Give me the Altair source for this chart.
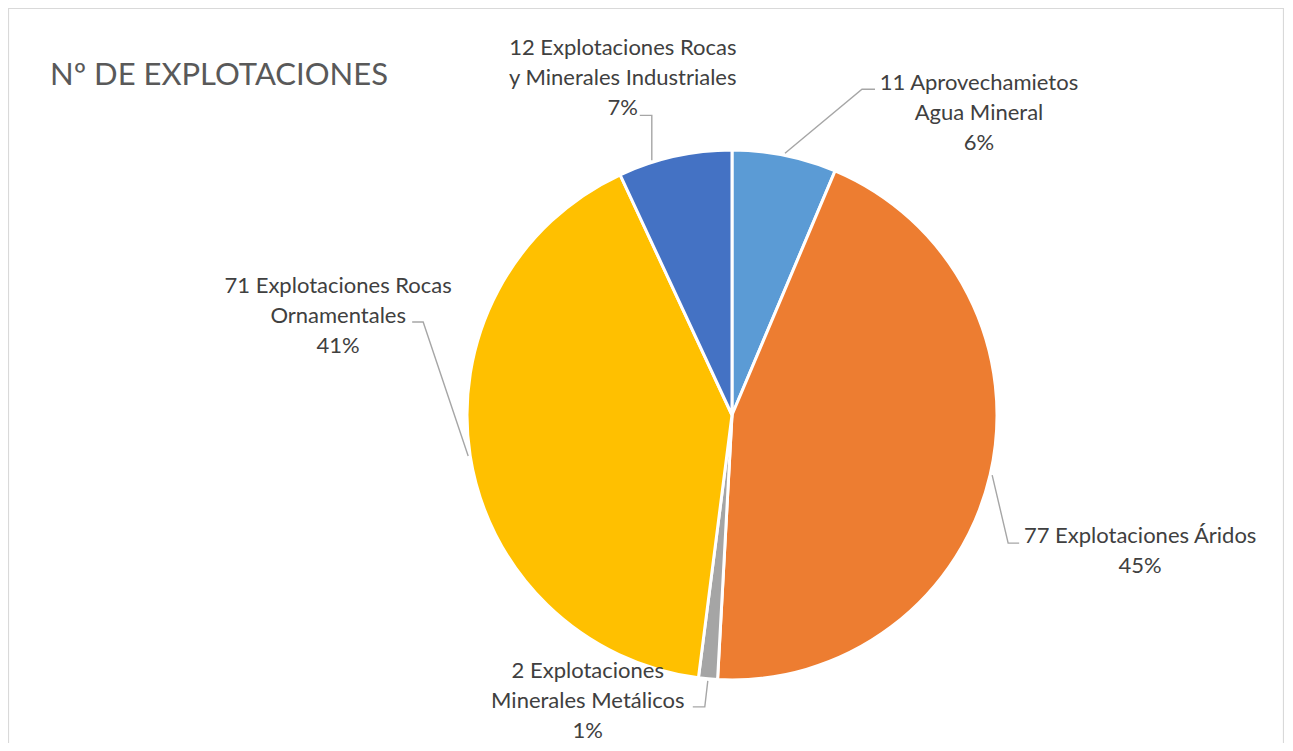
import math
import altair as alt
import pandas as pd

# ---------------- data ----------------
TITLE = "Nº DE EXPLOTACIONES"
categories = ["Agua Mineral", "Áridos", "Minerales Metálicos",
              "Rocas Ornamentales", "Rocas y Minerales Industriales"]
label_lines = [
    ["11 Aprovechamietos", "Agua Mineral"],
    ["77 Explotaciones Áridos"],
    ["2 Explotaciones", "Minerales Metálicos"],
    ["71 Explotaciones Rocas", "Ornamentales"],
    ["12 Explotaciones Rocas", "y Minerales Industriales"],
]
values = [11, 77, 2, 71, 12]
colors = ["#5B9BD5", "#ED7D31", "#A5A5A5", "#FFC000", "#4472C4"]

# ---------------- layout / style ----------------
W, H = 1276, 735
CX, CY, R = 724, 407, 265
anchor_frac = [0.5, 0.5, 0.5, 0.5, 0.3]          # where on the slice's rim the leader starts
text_off = [(194, -63), (148, 68), (-120, -3), (-130, -163), (-29, -105)]
elbow_off = [(77, -64), (16, 68), (-3, 26), (-45, -134), (0, -45)]
end_off = [(90, -64), (27, 68), (-15, 26), (-56, -134), (-12, -45)]
LINE_H = 30
TEXT_COLOR = "#404040"
LEADER_COLOR = "#A6A6A6"

total = sum(values)
pie_rows, lab_rows, lead_rows = [], [], []
cum = 0
for i, (cat, v) in enumerate(zip(categories, values)):
    start = cum / total * 2 * math.pi
    ang = start + anchor_frac[i] * v / total * 2 * math.pi
    cum += v
    ax = CX + (R + 2) * math.sin(ang)
    ay = CY - (R + 2) * math.cos(ang)
    pct = f"{round(v / total * 100)}%"
    pie_rows.append({"cat": cat, "value": v, "idx": i})
    lines = label_lines[i] + [pct]
    for k, ln in enumerate(lines):
        lab_rows.append({"cat": cat, "line": ln,
                         "x": ax + text_off[i][0],
                         "y": ay + text_off[i][1] + k * LINE_H})
    pts = [(ax, ay),
           (ax + elbow_off[i][0], ay + elbow_off[i][1]),
           (ax + end_off[i][0], ay + end_off[i][1])]
    for p, (px, py) in enumerate(pts):
        lead_rows.append({"cat": cat, "pt": p, "x": px, "y": py})

pie_df = pd.DataFrame(pie_rows)
lab_df = pd.DataFrame(lab_rows)
lead_df = pd.DataFrame(lead_rows)

xs = alt.Scale(domain=[0, W], range=[0, W], nice=False, zero=False)
ys = alt.Scale(domain=[0, H], range=[0, H], nice=False, zero=False)

frame = alt.Chart(pd.DataFrame({"a": [0]})).mark_rect(
    fill="transparent", stroke="#D9D9D9", strokeWidth=1.2
).encode(x=alt.value(0.5), x2=alt.value(W - 0.5), y=alt.value(0.5), y2=alt.value(H + 20))

pie = alt.Chart(pie_df).mark_arc(
    outerRadius=R, stroke="white", strokeWidth=3
).encode(
    theta=alt.Theta("value:Q", stack=True),
    order=alt.Order("idx:Q"),
    color=alt.Color("cat:N", scale=alt.Scale(domain=categories, range=colors), legend=None),
    x=alt.value(CX),
    y=alt.value(CY),
)

leaders = alt.Chart(lead_df).mark_line(
    color=LEADER_COLOR, strokeWidth=1.4
).encode(
    x=alt.X("x:Q", scale=xs, axis=None),
    y=alt.Y("y:Q", scale=ys, axis=None),
    detail="cat:N",
    order="pt:Q",
)

labels = alt.Chart(lab_df).mark_text(
    font="Lato", fontSize=22, color=TEXT_COLOR, align="center", baseline="alphabetic"
).encode(
    x=alt.X("x:Q", scale=xs, axis=None),
    y=alt.Y("y:Q", scale=ys, axis=None),
    text="line:N",
)

title = alt.Chart(pd.DataFrame({"t": [TITLE]})).mark_text(
    font="Lato", fontSize=31, color="#595959", align="left", baseline="alphabetic"
).encode(x=alt.value(42), y=alt.value(77), text="t:N")

chart = alt.layer(frame, pie, leaders, labels, title).properties(
    width=W, height=H, padding=0, autosize="none"
).configure_view(strokeWidth=0)

chart.save("out.html", embed_options={"renderer": "svg", "actions": False})
